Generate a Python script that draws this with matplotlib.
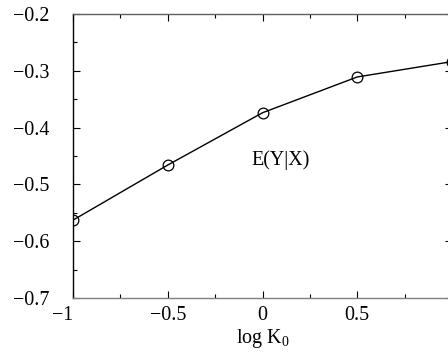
import matplotlib
matplotlib.use('Agg')
import matplotlib.pyplot as plt
from matplotlib.ticker import MultipleLocator

# expected value of Y given X against log K0
log_k0 = [-1.0, -0.5, 0.0, 0.5, 1.0]
e_y_given_x = [-0.563, -0.466, -0.374, -0.311, -0.284]

x_ticks = [-1.0, -0.5, 0.0, 0.5, 1.0]
x_tick_labels = ['\u22121', '\u22120.5', '0', '0.5', '']
y_ticks = [-0.7, -0.6, -0.5, -0.4, -0.3, -0.2]

plt.rcParams['font.family'] = ['Liberation Serif', 'DejaVu Serif']
plt.rcParams['mathtext.fontset'] = 'custom'
plt.rcParams['mathtext.rm'] = 'Liberation Serif'
plt.rcParams['mathtext.it'] = 'Liberation Serif:italic'


def start_plotting():
    figure = plt.figure(figsize=(4.48, 3.56), dpi=100)
    axes = figure.add_axes([0.163, 0.163, 0.846, 0.798])
    return figure, axes


def main():
    figure, axes = start_plotting()

    axes.plot(log_k0, e_y_given_x, color='black', linewidth=1.0,
              marker='o', markersize=7.7, markerfacecolor='none',
              markeredgecolor='black', markeredgewidth=0.9, clip_on=True)

    axes.set_xlim(-1.0, 1.0)
    axes.set_ylim(-0.7, -0.2)
    axes.set_xticks(x_ticks)
    axes.set_xticklabels(x_tick_labels)
    axes.set_yticks(y_ticks)
    axes.set_yticklabels(['\u2212%.1f' % abs(v) for v in y_ticks])
    axes.xaxis.set_minor_locator(MultipleLocator(0.25))
    axes.yaxis.set_minor_locator(MultipleLocator(0.05))

    axes.tick_params(which='both', direction='in', top=True, right=True,
                     labelsize=14.4, width=0.8)
    axes.tick_params(which='major', length=5)
    axes.tick_params(which='minor', length=3)
    axes.tick_params(axis='y', which='major', pad=17)
    axes.tick_params(axis='x', which='major', pad=6)

    # the -1 label sits to the left of its tick
    axes.get_xticklabels()[0].set_horizontalalignment('right')

    axes.spines['left'].set_color('black')
    axes.spines['bottom'].set_color('#808080')
    axes.spines['top'].set_color('#606060')
    for side in ['left', 'bottom', 'top', 'right']:
        axes.spines[side].set_linewidth(1.0)

    axes.set_xlabel('log K$_{\\rm 0}$', fontsize=14.4, labelpad=1)
    axes.text(0.096, -0.457, 'E(Y|X)', fontsize=14.4, ha='center', va='center')

    figure.savefig('out.png', dpi=100)


if __name__ == '__main__':
    main()
